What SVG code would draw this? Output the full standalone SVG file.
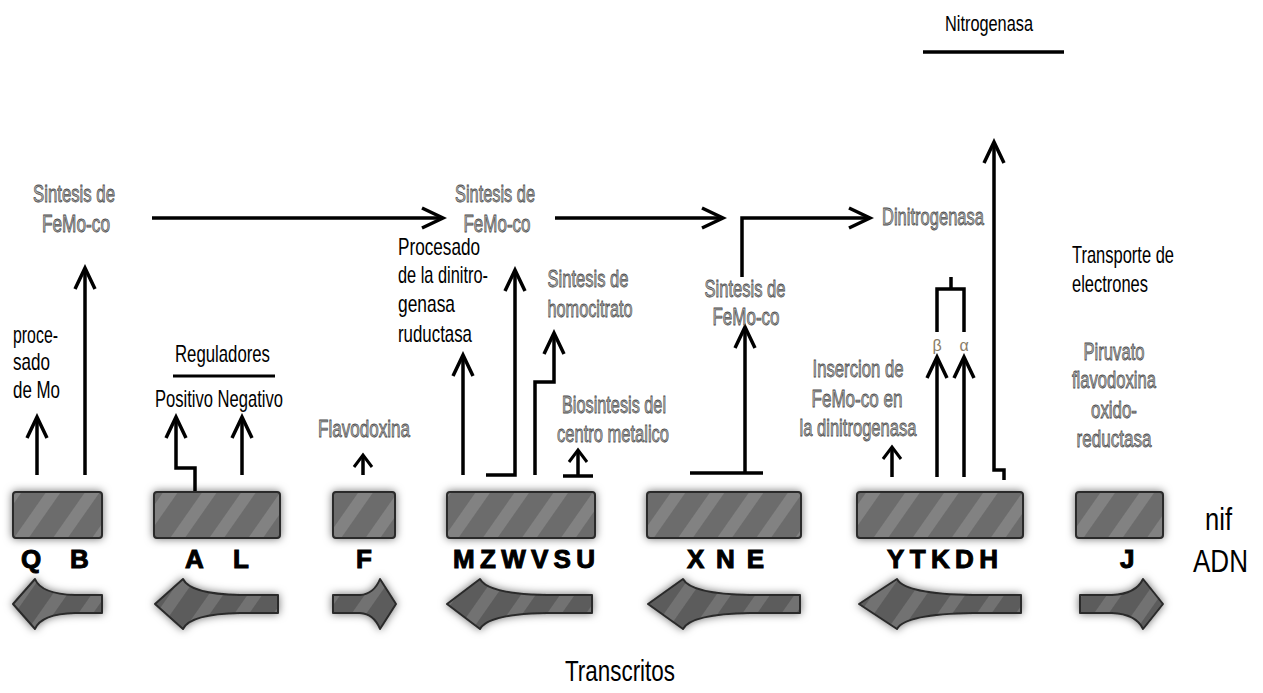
<svg xmlns="http://www.w3.org/2000/svg" width="1263" height="693" viewBox="0 0 1263 693">
<style>
.k{font-family:"Liberation Sans",Arial,sans-serif;font-size:24px;fill:#000}
.g{font-family:"Liberation Sans",Arial,sans-serif;font-size:24px;fill:#b4b4b4;stroke:#4a4a4a;stroke-width:0.8;text-anchor:middle}
.L{font-family:"Liberation Sans",Arial,sans-serif;font-size:26px;font-weight:bold;fill:#000;stroke:#000;stroke-width:1}
.gr{font-family:"Liberation Sans",Arial,sans-serif;font-size:16px;fill:#8a7d68;text-anchor:middle}
.ln{fill:none;stroke:#000;stroke-width:3.5}
.bx{fill:url(#st);stroke:#2a2a2a;stroke-width:2}
.fa{fill:url(#st2);stroke:#2a2a2a;stroke-width:2;stroke-linejoin:round}
</style>
<defs>
<pattern id="st" patternUnits="userSpaceOnUse" width="32" height="32" patternTransform="rotate(35)">
<rect width="32" height="32" fill="#6c6c6c"/>
<rect width="12" height="32" fill="#828282"/>
</pattern>
<pattern id="st2" patternUnits="userSpaceOnUse" width="32" height="32" patternTransform="rotate(35)">
<rect width="32" height="32" fill="#5c5c5c"/>
<rect width="12" height="32" fill="#727272"/>
</pattern>
<filter id="sh" x="-30%" y="-40%" width="160%" height="180%">
<feGaussianBlur in="SourceAlpha" stdDeviation="4" result="b"/>
<feFlood flood-color="#000" flood-opacity="0.55"/>
<feComposite in2="b" operator="in" result="s"/>
<feMerge><feMergeNode in="s"/><feMergeNode in="SourceGraphic"/></feMerge>
</filter>
<marker id="ah" markerUnits="userSpaceOnUse" viewBox="-26 -14 30 28" refX="0" refY="0" markerWidth="30" markerHeight="28" orient="auto">
<path d="M-21,-10 L0,0 L-21,10" fill="none" stroke="#000" stroke-width="3.5"/>
</marker>
<marker id="as" markerUnits="userSpaceOnUse" viewBox="-16 -12 20 24" refX="0" refY="0" markerWidth="20" markerHeight="24" orient="auto">
<path d="M-12,-9 L0,0 L-12,9" fill="none" stroke="#000" stroke-width="3"/>
</marker>
</defs>
<rect width="1263" height="693" fill="#fff"/>

<g id="title-nitrogenasa">
<text class="k" x="989" y="31" text-anchor="middle" style="font-size:22px" textLength="88" lengthAdjust="spacingAndGlyphs">Nitrogenasa</text>
<line x1="923" y1="52" x2="1064" y2="52" stroke="#000" stroke-width="3.5"/>
</g>

<g id="connectors">
<path class="ln" d="M37,475 V417" marker-end="url(#ah)"/>
<path class="ln" d="M85,475 V268" marker-end="url(#ah)"/>
<path class="ln" d="M195,503 V468 H176 V417" marker-end="url(#ah)"/>
<path class="ln" d="M242,475 V417" marker-end="url(#ah)"/>
<path class="ln" d="M363,475 V455" marker-end="url(#as)"/>
<path class="ln" d="M152,218 H443" marker-end="url(#ah)"/>
<path class="ln" d="M463,475 V355" marker-end="url(#ah)"/>
<path class="ln" d="M486,475 H515 V270" marker-end="url(#ah)"/>
<path class="ln" d="M535,475 V382 H554 V333" marker-end="url(#ah)"/>
<path class="ln" d="M563,476 H593"/>
<path class="ln" d="M578,476 V450" marker-end="url(#as)"/>
<path class="ln" d="M555,218 H723" marker-end="url(#ah)"/>
<path class="ln" d="M690,473 H763"/>
<path class="ln" d="M745,473 V327" marker-end="url(#ah)"/>
<path class="ln" d="M742,277 V218 H870" marker-end="url(#ah)"/>
<path class="ln" d="M892,477 V447" marker-end="url(#as)"/>
<path class="ln" d="M937,477 V357" marker-end="url(#ah)"/>
<path class="ln" d="M964,477 V357" marker-end="url(#ah)"/>
<path class="ln" d="M937,332 V289 H964 V332"/>
<path class="ln" d="M951,289 V277"/>
<path class="ln" d="M1004,480 V470 H994 V142" marker-end="url(#ah)"/>
</g>

<g id="label-femoco-1">
<text class="g" x="74" y="202" textLength="82" lengthAdjust="spacingAndGlyphs">Sintesis de</text>
<text class="g" x="76" y="232" textLength="68" lengthAdjust="spacingAndGlyphs">FeMo-co</text>
</g>
<g id="label-procesado-mo">
<text class="k" x="13" y="343" textLength="45" lengthAdjust="spacingAndGlyphs">proce-</text>
<text class="k" x="13" y="370" textLength="37" lengthAdjust="spacingAndGlyphs">sado</text>
<text class="k" x="13" y="398" textLength="47" lengthAdjust="spacingAndGlyphs">de Mo</text>
</g>
<g id="label-reguladores">
<text class="k" x="175" y="362" textLength="95" lengthAdjust="spacingAndGlyphs">Reguladores</text>
<line x1="173" y1="376" x2="275" y2="376" stroke="#000" stroke-width="3"/>
<text class="k" x="155" y="407" textLength="128" lengthAdjust="spacingAndGlyphs">Positivo Negativo</text>
</g>
<g id="label-flavodoxina">
<text class="g" x="364" y="437" textLength="92" lengthAdjust="spacingAndGlyphs">Flavodoxina</text>
</g>
<g id="label-femoco-2">
<text class="g" x="495" y="202" textLength="80" lengthAdjust="spacingAndGlyphs">Sintesis de</text>
<text class="g" x="497" y="232" textLength="67" lengthAdjust="spacingAndGlyphs">FeMo-co</text>
</g>
<g id="label-procesado-dinitro">
<text class="k" x="398" y="255" textLength="82" lengthAdjust="spacingAndGlyphs">Procesado</text>
<text class="k" x="398" y="283" textLength="90" lengthAdjust="spacingAndGlyphs">de la dinitro-</text>
<text class="k" x="398" y="312" textLength="57" lengthAdjust="spacingAndGlyphs">genasa</text>
<text class="k" x="398" y="342" textLength="74" lengthAdjust="spacingAndGlyphs">ruductasa</text>
</g>
<g id="label-homocitrato">
<text class="g" x="588" y="287" textLength="81" lengthAdjust="spacingAndGlyphs">Sintesis de</text>
<text class="g" x="590" y="317" textLength="85" lengthAdjust="spacingAndGlyphs">homocitrato</text>
</g>
<g id="label-biosintesis">
<text class="g" x="614" y="413" textLength="104" lengthAdjust="spacingAndGlyphs">Biosintesis del</text>
<text class="g" x="613" y="442" textLength="112" lengthAdjust="spacingAndGlyphs">centro metalico</text>
</g>
<g id="label-femoco-3">
<text class="g" x="745" y="297" textLength="81" lengthAdjust="spacingAndGlyphs">Sintesis de</text>
<text class="g" x="746" y="325" textLength="67" lengthAdjust="spacingAndGlyphs">FeMo-co</text>
</g>
<g id="label-dinitrogenasa">
<text class="g" x="933" y="225" textLength="102" lengthAdjust="spacingAndGlyphs">Dinitrogenasa</text>
</g>
<g id="label-insercion">
<text class="g" x="858" y="377" textLength="91" lengthAdjust="spacingAndGlyphs">Insercion de</text>
<text class="g" x="857" y="407" textLength="91" lengthAdjust="spacingAndGlyphs">FeMo-co en</text>
<text class="g" x="858" y="436" textLength="117" lengthAdjust="spacingAndGlyphs">la dinitrogenasa</text>
</g>
<g id="label-subunits">
<text class="gr" x="937" y="351">β</text>
<text class="gr" x="964" y="351">α</text>
</g>
<g id="label-transporte">
<text class="k" x="1072" y="263" textLength="102" lengthAdjust="spacingAndGlyphs">Transporte de</text>
<text class="k" x="1072" y="292" textLength="76" lengthAdjust="spacingAndGlyphs">electrones</text>
</g>
<g id="label-piruvato">
<text class="g" x="1114" y="360" textLength="61" lengthAdjust="spacingAndGlyphs">Piruvato</text>
<text class="g" x="1114" y="388" textLength="84" lengthAdjust="spacingAndGlyphs">flavodoxina</text>
<text class="g" x="1114" y="418" textLength="46" lengthAdjust="spacingAndGlyphs">oxido-</text>
<text class="g" x="1114" y="447" textLength="75" lengthAdjust="spacingAndGlyphs">reductasa</text>
</g>

<g id="node-QB">
<rect class="bx" x="13" y="492" width="89" height="46" rx="3" filter="url(#sh)"/>
<text class="L" x="21" y="568">Q</text>
<text class="L" x="70" y="568">B</text>
<path class="fa" d="M13,604 L35,579 Q41,594 75,595 L102,595 L102,613 L75,613 Q41,614 35,629 Z" filter="url(#sh)"/>
</g>
<g id="node-AL">
<rect class="bx" x="154" y="492" width="126" height="46" rx="3" filter="url(#sh)"/>
<text class="L" x="185" y="568">A</text>
<text class="L" x="233" y="568">L</text>
<path class="fa" d="M155,604 L183,579 Q190,594 240,595 L278,595 L278,613 L240,613 Q190,614 183,629 Z" filter="url(#sh)"/>
</g>
<g id="node-F">
<rect class="bx" x="333" y="492" width="62" height="46" rx="3" filter="url(#sh)"/>
<text class="L" x="356" y="568">F</text>
<path class="fa" d="M333,595 L360,595 Q374,594 380,579 L396,604 L380,629 Q374,614 360,613 L333,613 Z" filter="url(#sh)"/>
</g>
<g id="node-MZWVSU">
<rect class="bx" x="447" y="492" width="148" height="46" rx="3" filter="url(#sh)"/>
<text class="L" x="453" y="568" textLength="142" lengthAdjust="spacing">MZWVSU</text>
<path class="fa" d="M447,604 L480,579 Q488,594 547,595 L592,595 L592,613 L547,613 Q488,614 480,629 Z" filter="url(#sh)"/>
</g>
<g id="node-XNE">
<rect class="bx" x="647" y="492" width="154" height="46" rx="3" filter="url(#sh)"/>
<text class="L" x="687" y="568" textLength="77" lengthAdjust="spacing">X N E</text>
<path class="fa" d="M648,604 L683,579 Q691,594 750,595 L800,595 L800,613 L750,613 Q691,614 683,629 Z" filter="url(#sh)"/>
</g>
<g id="node-YTKDH">
<rect class="bx" x="857" y="492" width="166" height="46" rx="3" filter="url(#sh)"/>
<text class="L" x="887" y="568" textLength="111" lengthAdjust="spacing">YTKDH</text>
<path class="fa" d="M859,604 L897,579 Q905,594 973,595 L1021,595 L1021,613 L973,613 Q905,614 897,629 Z" filter="url(#sh)"/>
</g>
<g id="node-J">
<rect class="bx" x="1076" y="492" width="87" height="46" rx="3" filter="url(#sh)"/>
<text class="L" x="1120" y="568">J</text>
<path class="fa" d="M1080,595 L1112,595 Q1136,594 1143,579 L1163,604 L1143,629 Q1136,614 1112,613 L1080,613 Z" filter="url(#sh)"/>
</g>

<g id="legend">
<text class="k" x="1205" y="530" style="font-size:32px" textLength="27" lengthAdjust="spacingAndGlyphs">nif</text>
<text class="k" x="1193" y="572" style="font-size:31px" textLength="55" lengthAdjust="spacingAndGlyphs">ADN</text>
<text class="k" x="565" y="681" style="font-size:30px" textLength="110" lengthAdjust="spacingAndGlyphs">Transcritos</text>
</g>
</svg>
